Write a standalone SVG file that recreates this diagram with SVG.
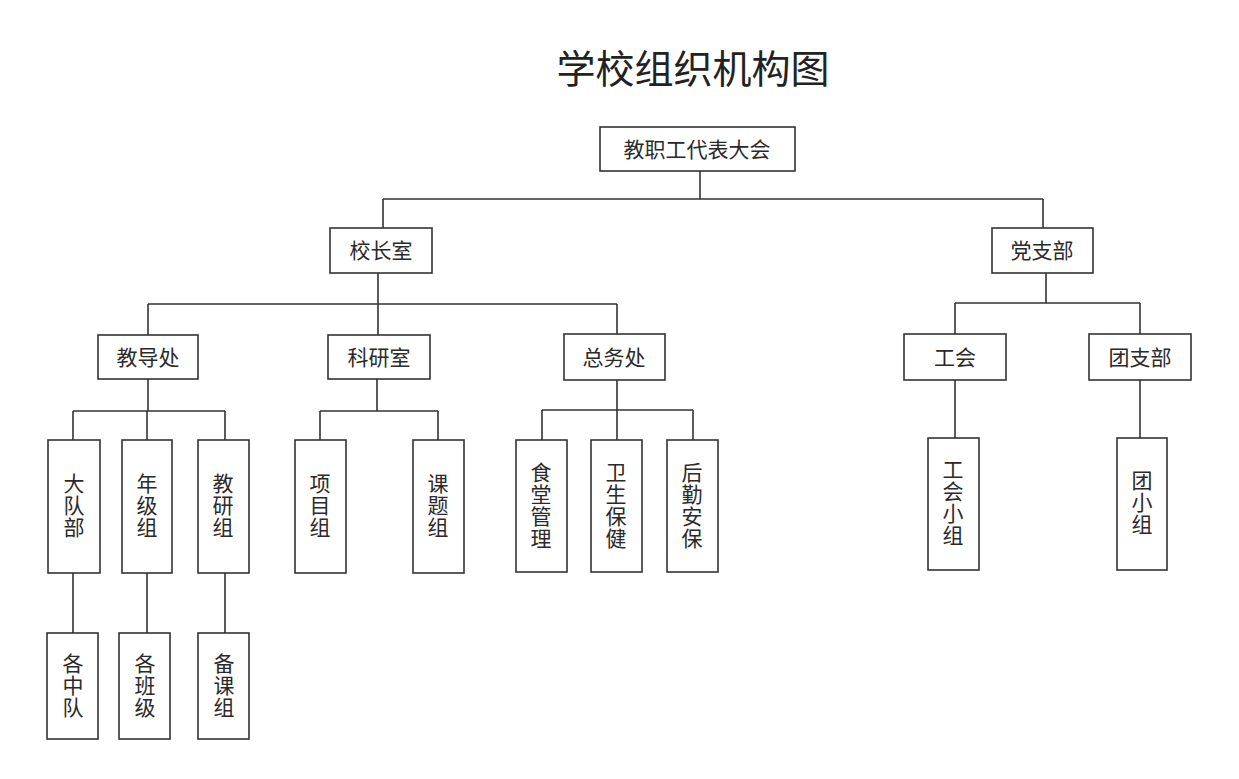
<svg xmlns="http://www.w3.org/2000/svg" width="1239" height="779" viewBox="0 0 1239 779">
<style>
.box{fill:#fff;stroke:#333;stroke-width:1.6}
.ln{fill:none;stroke:#333;stroke-width:1.6}
.t{font-family:"Noto Sans CJK SC","Noto Sans",sans-serif;font-size:21px;fill:#2a2a2a;text-anchor:middle}
.v{font-family:"Noto Sans CJK SC","Noto Sans",sans-serif;font-size:21px;fill:#2a2a2a;text-anchor:middle;writing-mode:vertical-rl;letter-spacing:1px}
.title{font-family:"Noto Sans CJK SC","Noto Sans",sans-serif;font-size:39px;fill:#222;text-anchor:middle}
</style>
<rect width="1239" height="779" fill="#fff"/>
<text class="title" x="693" y="83">学校组织机构图</text>
<g id="connectors">
<path class="ln" d="M700 171V199M383 199H1043M383 199V228M1043 199V228"/>
<path class="ln" d="M378 273V304M148 304H617M148 304V335M378 304V335M617 304V334"/>
<path class="ln" d="M148 379V411M73 411H225M73 411V440M147 411V440M225 411V440"/>
<path class="ln" d="M73 573V633M147 573V633M225 573V633"/>
<path class="ln" d="M377 379V411M320 411H438M320 411V440M438 411V440"/>
<path class="ln" d="M617 380V440M542 410H693M542 410V440M693 410V440"/>
<path class="ln" d="M1046 273V303M955 303H1140M955 303V334M1140 303V334"/>
<path class="ln" d="M955 380V438M1140 380V438"/>
</g>
<g id="n-congress"><rect class="box" x="600" y="127" width="195" height="44"/><text class="t" x="697" y="157">教职工代表大会</text></g>
<g id="n-principal"><rect class="box" x="330" y="228" width="102" height="45"/><text class="t" x="381" y="258">校长室</text></g>
<g id="n-party"><rect class="box" x="992" y="228" width="101" height="45"/><text class="t" x="1042" y="258">党支部</text></g>
<g id="n-jiaodao"><rect class="box" x="98" y="335" width="100" height="44"/><text class="t" x="148" y="365">教导处</text></g>
<g id="n-keyan"><rect class="box" x="328" y="335" width="102" height="44"/><text class="t" x="379" y="365">科研室</text></g>
<g id="n-zongwu"><rect class="box" x="564" y="334" width="101" height="46"/><text class="t" x="614" y="365">总务处</text></g>
<g id="n-gonghui"><rect class="box" x="904" y="334" width="102" height="46"/><text class="t" x="955" y="365">工会</text></g>
<g id="n-tuan"><rect class="box" x="1089" y="334" width="102" height="46"/><text class="t" x="1140" y="365">团支部</text></g>
<g id="n-daduibu"><rect class="box" x="48" y="440" width="52" height="133"/><text class="v" x="74" y="506">大队部</text></g>
<g id="n-nianjizu"><rect class="box" x="122" y="440" width="50" height="133"/><text class="v" x="147" y="506">年级组</text></g>
<g id="n-jiaoyanzu"><rect class="box" x="198" y="440" width="51" height="133"/><text class="v" x="223" y="506">教研组</text></g>
<g id="n-xiangmuzu"><rect class="box" x="295" y="440" width="51" height="133"/><text class="v" x="320" y="506">项目组</text></g>
<g id="n-ketizu"><rect class="box" x="413" y="440" width="51" height="133"/><text class="v" x="438" y="506">课题组</text></g>
<g id="n-shitang"><rect class="box" x="516" y="440" width="51" height="132"/><text class="v" x="541" y="506">食堂管理</text></g>
<g id="n-weisheng"><rect class="box" x="591" y="440" width="51" height="132"/><text class="v" x="616" y="506">卫生保健</text></g>
<g id="n-houqin"><rect class="box" x="667" y="440" width="51" height="132"/><text class="v" x="692" y="506">后勤安保</text></g>
<g id="n-gonghuixiaozu"><rect class="box" x="928" y="438" width="51" height="132"/><text class="v" x="953" y="503">工会小组</text></g>
<g id="n-tuanxiaozu"><rect class="box" x="1117" y="438" width="50" height="132"/><text class="v" x="1142" y="503">团小组</text></g>
<g id="n-gezhongdui"><rect class="box" x="47" y="633" width="51" height="106"/><text class="v" x="73" y="686">各中队</text></g>
<g id="n-gebanji"><rect class="box" x="119" y="633" width="51" height="106"/><text class="v" x="145" y="686">各班级</text></g>
<g id="n-beikezu"><rect class="box" x="198" y="633" width="51" height="106"/><text class="v" x="224" y="686">备课组</text></g>
</svg>
